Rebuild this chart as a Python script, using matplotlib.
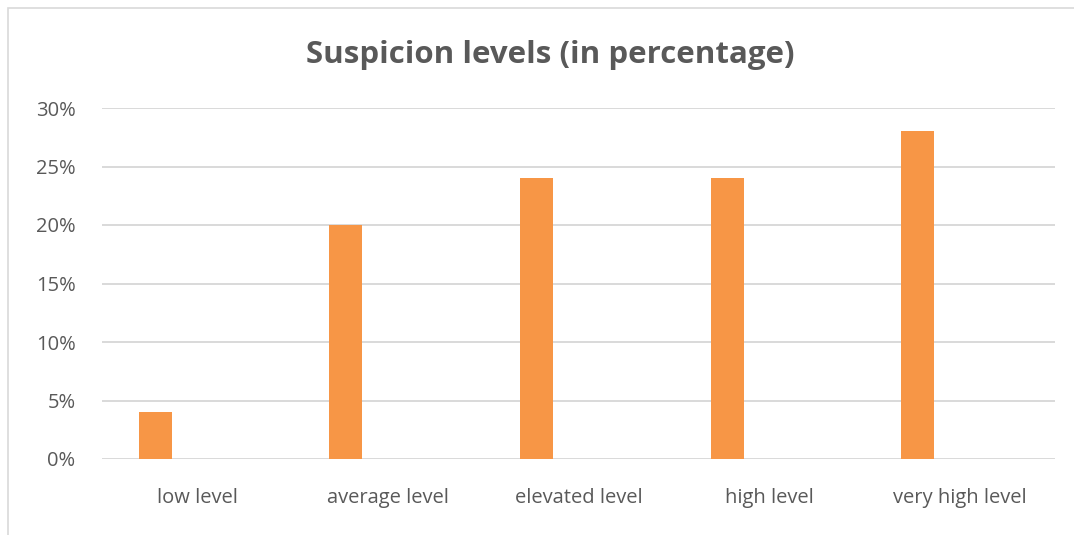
import numpy as np
import matplotlib.pyplot as plt
from matplotlib.patches import Rectangle

categories = ['low level', 'average level', 'elevated level', 'high level', 'very high level']
values = [0.04, 0.20, 0.24, 0.24, 0.28]
yticks = [0, 0.05, 0.10, 0.15, 0.20, 0.25, 0.30]
ytick_labels = ['0%', '5%', '10%', '15%', '20%', '25%', '30%']

txt_color = '#595959'
plt.rcParams['font.family'] = ['Open Sans', 'DejaVu Sans']

fig = plt.figure(figsize=(10.74, 5.35), dpi=100)
ax = fig.add_axes([102 / 1074, 1 - 459 / 535, 953 / 1074, 351 / 535])

# clustered chart look: bar sits left of the category centre
x = np.arange(len(categories))
ax.bar(x - 0.22, values, width=0.173, color='#f79646', zorder=3)

ax.set_xlim(-0.5, len(categories) - 0.5)
ax.set_ylim(0, 0.30)
ax.set_yticks(yticks)
ax.set_yticklabels(ytick_labels, color=txt_color, fontsize=14.5)
ax.set_xticks(x)
ax.set_xticklabels(categories, color=txt_color, fontsize=14.5)
ax.tick_params(length=0)
ax.tick_params(axis='y', pad=19)
ax.tick_params(axis='x', pad=21)
ax.grid(axis='y', color='#d9d9d9', linewidth=1.4, zorder=0)
for s in ax.spines.values():
    s.set_visible(False)

fig.text(0.512, 1 - 55 / 535, 'Suspicion levels (in percentage)', ha='center', va='center',
         fontsize=22.5, fontweight='bold', color=txt_color)

# chart frame
fig.patches.append(Rectangle((8 / 1074, -0.05), 1.1, 1 - 8 / 535 + 0.05, transform=fig.transFigure,
                             fill=False, edgecolor='#d9d9d9', linewidth=1.2))

fig.savefig('out.png', dpi=100)
